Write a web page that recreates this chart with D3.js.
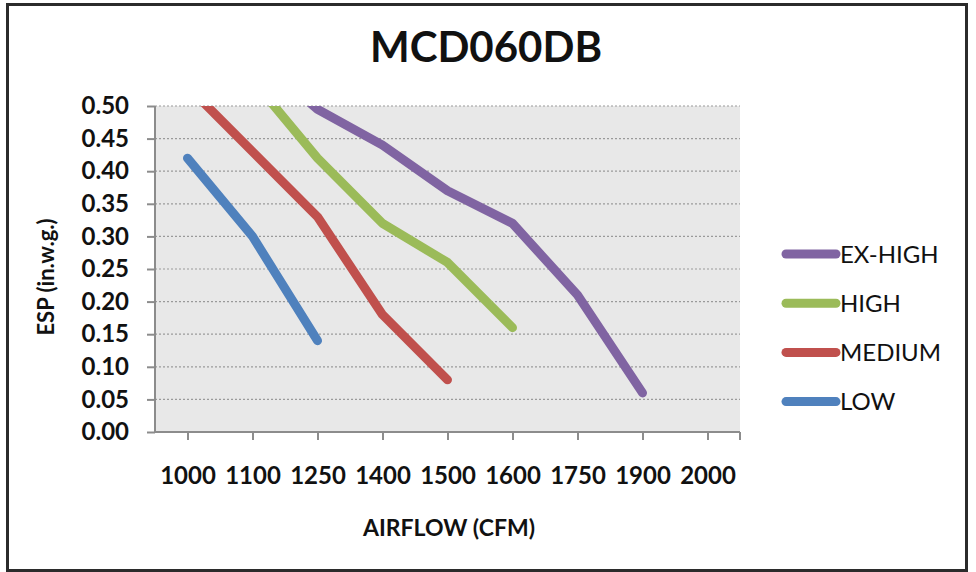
<!DOCTYPE html>
<html>
<head>
<meta charset="utf-8">
<script src="https://d3js.org/d3.v7.min.js"></script>
<style>
  body { margin: 0; background: #fff; }
  svg { display: block; font-family: Lato, "Open Sans", sans-serif; }
</style>
</head>
<body>
<svg id="chart" width="976" height="572"></svg>
<script>
// categories on the x axis (Excel-style category axis, equally spaced)
const airflow = ['1000', '1100', '1250', '1400', '1500', '1600', '1750', '1900', '2000'];
const yTicks = [0, 0.05, 0.10, 0.15, 0.20, 0.25, 0.30, 0.35, 0.40, 0.45, 0.50];

// ESP values per speed; null = no point
const exHigh = [null, 0.58, 0.495, 0.44, 0.37, 0.32, 0.21, 0.06, null];
const high   = [null, 0.54, 0.42, 0.32, 0.26, 0.16, null, null, null];
const medium = [0.53, 0.43, 0.33, 0.18, 0.08, null, null, null, null];
const low    = [0.42, 0.30, 0.14, null, null, null, null, null, null];

const seriesNames  = ['EX-HIGH', 'HIGH', 'MEDIUM', 'LOW'];
const seriesColors = ['#8064A2', '#9BBB59', '#C0504D', '#4F81BD'];
const seriesValues = [exHigh, high, medium, low];

let config = {
    left: 155, right: 740, top: 106, bottom: 432,
    lineWidth: 9,
    font: 'Lato, "Open Sans", sans-serif',
}

const svg = d3.select('#chart');

// outer frame
svg.append('rect')
    .attr('x', 7.5).attr('y', 4.5)
    .attr('width', 959).attr('height', 566)
    .attr('fill', 'none').attr('stroke', '#2b2b2b').attr('stroke-width', 3);

const x = d3.scalePoint()
    .domain(airflow)
    .range([config.left, config.right])
    .padding(0.5);

const y = d3.scaleLinear()
    .domain([0, 0.5])
    .range([config.bottom, config.top]);

// plot area background
svg.append('rect')
    .attr('x', config.left).attr('y', config.top)
    .attr('width', config.right - config.left)
    .attr('height', config.bottom - config.top)
    .attr('fill', '#e8e8e8');

// dotted gridlines
svg.append('g').selectAll('line')
    .data(yTicks.filter(d => d > 0))
    .join('line')
    .attr('x1', config.left).attr('x2', config.right)
    .attr('y1', d => y(d)).attr('y2', d => y(d))
    .attr('stroke', '#9a9a9a')
    .attr('stroke-width', 1.2)
    .attr('stroke-dasharray', '2,2');

// y axis
const yAxis = d3.axisLeft(y)
    .tickValues(yTicks)
    .tickFormat(d3.format('.2f'))
    .tickSize(8)
    .tickPadding(18);
const gy = svg.append('g')
    .attr('transform', 'translate(' + config.left + ',0)')
    .call(yAxis);

// x axis (ticks at the categories)
const xAxis = d3.axisBottom(x).tickSize(8);
const gx = svg.append('g')
    .attr('transform', 'translate(0,' + config.bottom + ')')
    .call(xAxis);
gx.append('line')
    .attr('x1', config.right).attr('x2', config.right)
    .attr('y1', 0).attr('y2', 8);
gx.selectAll('text').attr('y', 52).attr('dy', null);

[gx, gy].forEach(g => {
    g.select('.domain').attr('stroke', '#8c8c8c').attr('stroke-width', 2);
    g.selectAll('line').attr('stroke', '#8c8c8c').attr('stroke-width', 2);
    g.selectAll('text')
        .attr('fill', '#111')
        .style('font-size', '24px')
        .style('font-weight', 'bold')
        .style('font-family', config.font);
});
gy.select('.domain').attr('d', 'M0,' + config.top + 'V' + config.bottom);
gx.select('.domain').attr('d', 'M' + config.left + ',0H' + config.right);

// clip lines to plot area like Excel does
svg.append('clipPath').attr('id', 'plotclip')
    .append('rect')
    .attr('x', config.left).attr('y', config.top)
    .attr('width', config.right - config.left)
    .attr('height', config.bottom - config.top);

const line = d3.line()
    .defined(d => d.v !== null)
    .x(d => x(d.c))
    .y(d => y(d.v));

const plot = svg.append('g').attr('clip-path', 'url(#plotclip)');
// draw LOW first so EX-HIGH is on top like the reference
for (let i = seriesValues.length - 1; i >= 0; i--) {
    const data = airflow.map((c, j) => ({ c: c, v: seriesValues[i][j] }));
    plot.append('path')
        .datum(data)
        .attr('d', line)
        .attr('fill', 'none')
        .attr('stroke', seriesColors[i])
        .attr('stroke-width', config.lineWidth)
        .attr('stroke-linecap', 'round')
        .attr('stroke-linejoin', 'round');
}

// title
svg.append('text')
    .attr('x', 486).attr('y', 62)
    .attr('text-anchor', 'middle')
    .style('font-size', '42px')
    .style('font-weight', 'bold')
    .attr('fill', '#111')
    .text('MCD060DB');

// axis titles
svg.append('text')
    .attr('x', 449).attr('y', 536)
    .attr('text-anchor', 'middle')
    .style('font-size', '23px')
    .style('font-weight', 'bold')
    .attr('fill', '#111')
    .text('AIRFLOW (CFM)');

svg.append('text')
    .attr('transform', 'translate(54,277) rotate(-90)')
    .attr('text-anchor', 'middle')
    .style('font-size', '22px')
    .style('font-weight', 'bold')
    .attr('fill', '#111')
    .text('ESP (in.w.g.)');

// legend
const legend = svg.append('g').attr('transform', 'translate(786,254)');
const rows = legend.selectAll('g')
    .data(seriesNames)
    .join('g')
    .attr('transform', (d, i) => 'translate(0,' + (i * 49.2) + ')');
rows.append('line')
    .attr('x1', 0).attr('x2', 50)
    .attr('stroke', (d, i) => seriesColors[i])
    .attr('stroke-width', config.lineWidth)
    .attr('stroke-linecap', 'round');
rows.append('text')
    .attr('x', 54).attr('y', 8.5)
    .style('font-size', '24px')
    .attr('fill', '#111')
    .text(d => d);
</script>
</body>
</html>
